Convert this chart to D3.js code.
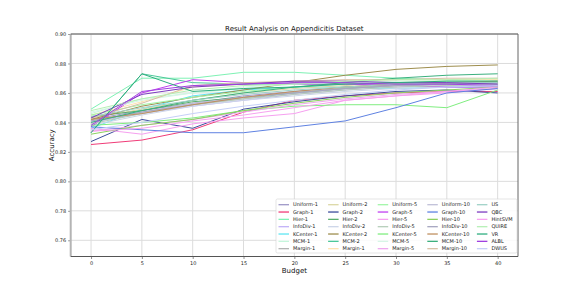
<!DOCTYPE html>
<html>
<head>
<meta charset="utf-8">
<script src="https://cdn.jsdelivr.net/npm/d3@7"></script>
<style>
  html, body { margin: 0; padding: 0; background: #fff; }
  svg { display: block; font-family: 'DejaVu Sans', sans-serif; }
</style>
</head>
<body>
<div id="chart"></div>
<script>
const budgets = [0, 5, 10, 15, 20, 25, 30, 35, 40]

const yTicks = [0.76, 0.78, 0.80, 0.82, 0.84, 0.86, 0.88, 0.90]

const methodNames = [
  'Uniform-1', 'Graph-1', 'Hier-1', 'InfoDiv-1', 'KCenter-1', 'MCM-1', 'Margin-1',
  'Uniform-2', 'Graph-2', 'Hier-2', 'InfoDiv-2', 'KCenter-2', 'MCM-2', 'Margin-1',
  'Uniform-5', 'Graph-5', 'Hier-5', 'InfoDiv-5', 'KCenter-5', 'MCM-5', 'Margin-5',
  'Uniform-10', 'Graph-10', 'Hier-10', 'InfoDiv-10', 'KCenter-10', 'MCM-10', 'Margin-10',
  'US', 'QBC', 'HintSVM', 'QUIRE', 'VR', 'ALBL', 'DWUS'
]

const methodColors = [
  '#9f98c8', '#f03c78', '#7ef2b4', '#c2b2f8', '#5ee6f2', '#c6f6dc', '#b2b2b2',
  '#dcd8a6', '#3c4c9c', '#5aae6e', '#ccd6e8', '#9e8e4e', '#4cc89a', '#ffe2b0',
  '#a2f6a8', '#c040f0', '#f6a0f0', '#b6ceba', '#80ee80', '#d6f6e6', '#eea8ee',
  '#c0c0d8', '#5f82e2', '#8ed060', '#a6a6c0', '#c09060', '#3cb07e', '#d8c0a6',
  '#a0d2c8', '#7c3cc0', '#f8a2f0', '#b6f0b6', '#2fae80', '#a040e0', '#c6d0f8'
]

// accuracy per budget, one row per method (same order as methodNames)
const accuracy = [
  [0.842, 0.848, 0.853, 0.858, 0.861, 0.864, 0.866, 0.867, 0.867],
  [0.825, 0.828, 0.835, 0.847, 0.855, 0.858, 0.860, 0.861, 0.861],
  [0.849, 0.870, 0.870, 0.874, 0.874, 0.872, 0.870, 0.869, 0.869],
  [0.840, 0.846, 0.851, 0.855, 0.859, 0.862, 0.864, 0.865, 0.865],
  [0.836, 0.849, 0.858, 0.862, 0.864, 0.864, 0.863, 0.864, 0.864],
  [0.846, 0.856, 0.860, 0.863, 0.866, 0.867, 0.868, 0.868, 0.869],
  [0.841, 0.847, 0.852, 0.856, 0.860, 0.863, 0.865, 0.866, 0.866],
  [0.843, 0.849, 0.855, 0.860, 0.863, 0.865, 0.867, 0.868, 0.868],
  [0.827, 0.842, 0.836, 0.849, 0.854, 0.858, 0.861, 0.862, 0.860],
  [0.844, 0.848, 0.854, 0.857, 0.860, 0.863, 0.865, 0.866, 0.867],
  [0.838, 0.845, 0.851, 0.855, 0.858, 0.861, 0.863, 0.864, 0.865],
  [0.842, 0.851, 0.857, 0.862, 0.867, 0.872, 0.876, 0.878, 0.879],
  [0.833, 0.873, 0.867, 0.866, 0.866, 0.866, 0.866, 0.866, 0.866],
  [0.845, 0.854, 0.864, 0.866, 0.868, 0.868, 0.869, 0.869, 0.869],
  [0.845, 0.852, 0.857, 0.861, 0.864, 0.866, 0.867, 0.868, 0.868],
  [0.837, 0.860, 0.869, 0.867, 0.866, 0.866, 0.865, 0.864, 0.864],
  [0.836, 0.832, 0.839, 0.843, 0.846, 0.855, 0.858, 0.860, 0.863],
  [0.839, 0.846, 0.852, 0.856, 0.859, 0.862, 0.864, 0.865, 0.866],
  [0.838, 0.840, 0.843, 0.848, 0.851, 0.852, 0.852, 0.850, 0.862],
  [0.847, 0.855, 0.860, 0.864, 0.866, 0.867, 0.868, 0.868, 0.868],
  [0.834, 0.838, 0.842, 0.847, 0.852, 0.856, 0.859, 0.861, 0.863],
  [0.840, 0.847, 0.853, 0.857, 0.860, 0.863, 0.865, 0.866, 0.866],
  [0.837, 0.835, 0.833, 0.833, 0.837, 0.841, 0.850, 0.860, 0.863],
  [0.832, 0.838, 0.842, 0.848, 0.853, 0.857, 0.860, 0.862, 0.864],
  [0.841, 0.847, 0.852, 0.857, 0.860, 0.863, 0.865, 0.866, 0.867],
  [0.842, 0.846, 0.852, 0.857, 0.861, 0.864, 0.866, 0.867, 0.868],
  [0.840, 0.848, 0.855, 0.860, 0.864, 0.867, 0.870, 0.872, 0.873],
  [0.843, 0.853, 0.865, 0.867, 0.868, 0.869, 0.869, 0.870, 0.870],
  [0.844, 0.850, 0.855, 0.859, 0.862, 0.864, 0.866, 0.867, 0.867],
  [0.843, 0.859, 0.864, 0.866, 0.868, 0.868, 0.867, 0.867, 0.866],
  [0.834, 0.836, 0.841, 0.845, 0.850, 0.855, 0.858, 0.861, 0.864],
  [0.848, 0.856, 0.862, 0.865, 0.866, 0.868, 0.869, 0.869, 0.870],
  [0.833, 0.873, 0.861, 0.863, 0.864, 0.866, 0.867, 0.868, 0.868],
  [0.838, 0.861, 0.865, 0.866, 0.867, 0.867, 0.866, 0.866, 0.865],
  [0.835, 0.840, 0.846, 0.851, 0.855, 0.859, 0.862, 0.864, 0.865]
]

const width = 576
const height = 288
const plot = { left: 70.7, right: 518, top: 34, bottom: 256.5 }

const svg = d3.select('#chart')
  .append('svg')
  .attr('width', width)
  .attr('height', height)

const x = d3.scaleLinear().domain([-2, 42]).range([plot.left, plot.right])
const y = d3.scaleLinear().domain([0.749, 0.90]).range([plot.bottom, plot.top])

// ── GRID ─────────────────────────────────────────────────────
const grid = svg.append('g').attr('stroke', '#dcdcdc').attr('stroke-width', 1)
grid.selectAll('.vgrid')
  .data(budgets)
  .join('line')
  .attr('x1', d => x(d)).attr('x2', d => x(d))
  .attr('y1', plot.top).attr('y2', plot.bottom)
grid.selectAll('.hgrid')
  .data(yTicks)
  .join('line')
  .attr('x1', plot.left).attr('x2', plot.right)
  .attr('y1', d => y(d)).attr('y2', d => y(d))

// ── LINES ────────────────────────────────────────────────────
const line = d3.line()
  .x((d, i) => x(budgets[i]))
  .y(d => y(d))

svg.append('g')
  .selectAll('path')
  .data(accuracy)
  .join('path')
  .attr('d', line)
  .attr('fill', 'none')
  .attr('stroke', (d, i) => methodColors[i])
  .attr('stroke-width', 1)

// ── AXES ─────────────────────────────────────────────────────
const xAxis = svg.append('g')
  .attr('transform', `translate(0, ${plot.bottom})`)
  .call(d3.axisBottom(x).tickValues(budgets).tickSize(2.5).tickPadding(2).tickSizeOuter(0))
const yAxis = svg.append('g')
  .attr('transform', `translate(${plot.left}, 0)`)
  .call(d3.axisLeft(y).tickValues(yTicks).tickFormat(d3.format('.2f')).tickSize(2.5).tickPadding(2).tickSizeOuter(0))

for (const ax of [xAxis, yAxis]) {
  ax.select('.domain').remove()
  ax.selectAll('text').attr('font-size', 5).attr('fill', '#222').attr('font-family', 'DejaVu Sans')
  ax.selectAll('line').attr('stroke', '#444').attr('stroke-width', 0.6)
}

// spines
svg.append('line')
  .attr('x1', plot.left).attr('x2', plot.left)
  .attr('y1', plot.top).attr('y2', plot.bottom)
  .attr('stroke', '#b4b4b4').attr('stroke-width', 2)
svg.append('line')
  .attr('x1', plot.left).attr('x2', plot.right)
  .attr('y1', plot.top).attr('y2', plot.top)
  .attr('stroke', '#555').attr('stroke-width', 1)
svg.append('line')
  .attr('x1', plot.right).attr('x2', plot.right)
  .attr('y1', plot.top).attr('y2', plot.bottom)
  .attr('stroke', '#666').attr('stroke-width', 1)
svg.append('line')
  .attr('x1', plot.left).attr('x2', plot.right)
  .attr('y1', plot.bottom).attr('y2', plot.bottom)
  .attr('stroke', '#555').attr('stroke-width', 1)

// ── TITLES ───────────────────────────────────────────────────
const midX = (plot.left + plot.right) / 2
svg.append('text')
  .attr('x', midX).attr('y', 31)
  .attr('text-anchor', 'middle')
  .attr('font-size', 7)
  .attr('fill', '#111')
  .text('Result Analysis on Appendicitis Dataset')

svg.append('text')
  .attr('x', midX).attr('y', 273)
  .attr('text-anchor', 'middle')
  .attr('font-size', 7)
  .attr('fill', '#111')
  .text('Budget')

svg.append('text')
  .attr('transform', `translate(54, ${(plot.top + plot.bottom) / 2}) rotate(-90)`)
  .attr('text-anchor', 'middle')
  .attr('font-size', 7)
  .attr('fill', '#111')
  .text('Accuracy')

// ── LEGEND ───────────────────────────────────────────────────
const legend = svg.append('g').attr('transform', 'translate(276, 199)')
legend.append('rect')
  .attr('width', 241).attr('height', 54)
  .attr('rx', 1.5)
  .attr('fill', '#fff').attr('fill-opacity', 0.85)
  .attr('stroke', '#d4d4d4').attr('stroke-width', 0.6)

const rows = 7
const colSpace = 49.6
const rowSpace = 7.33

const items = legend.selectAll('.legend-item')
  .data(methodNames)
  .join('g')
  .attr('class', 'legend-item')
  .attr('transform', (d, i) => `translate(${2.5 + Math.floor(i / rows) * colSpace}, ${5.7 + (i % rows) * rowSpace})`)

items.append('line')
  .attr('x1', 0).attr('x2', 10.5)
  .attr('stroke', (d, i) => methodColors[i])
  .attr('stroke-width', 1.3)

items.append('text')
  .attr('x', 14.5)
  .attr('dy', '0.35em')
  .attr('font-size', 5)
  .attr('fill', '#222')
  .text(d => d)
</script>
</body>
</html>
